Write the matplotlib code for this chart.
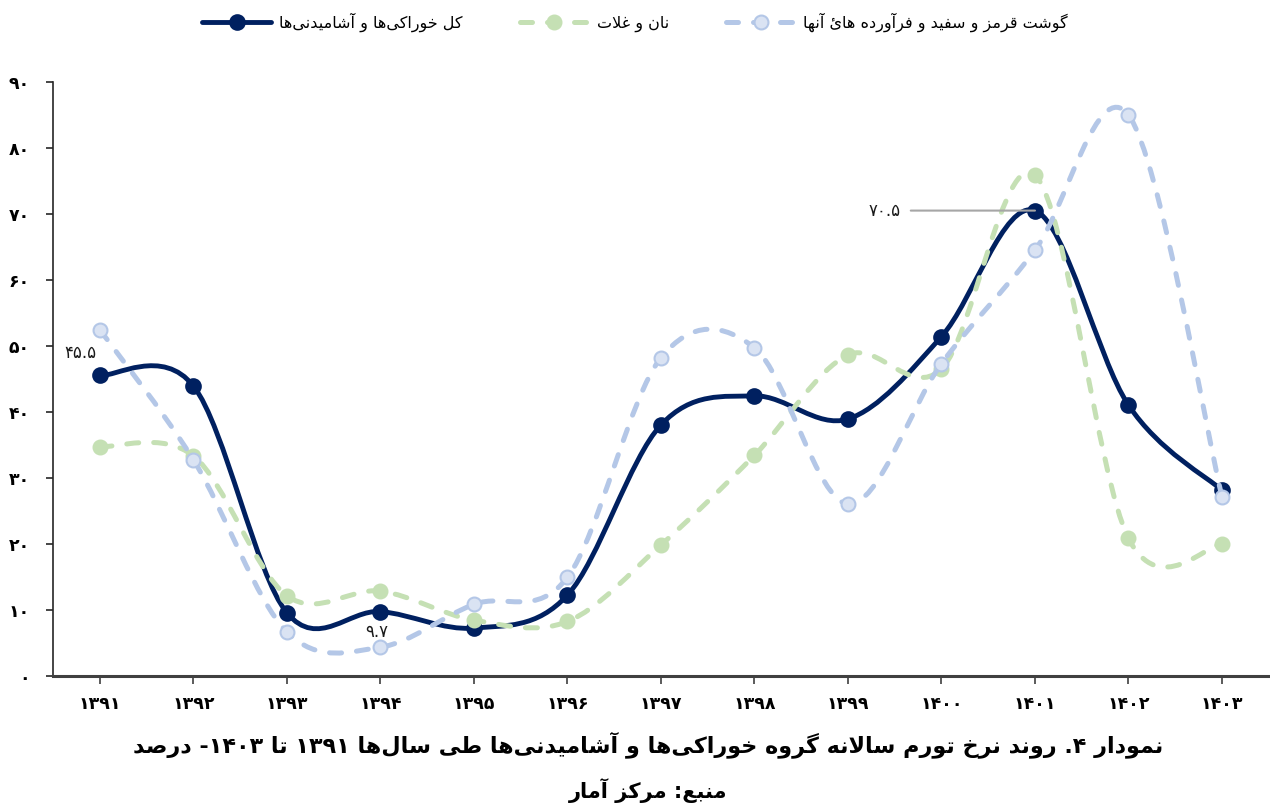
import re
import numpy as np
import matplotlib
matplotlib.use("Agg")
import matplotlib.pyplot as plt
from matplotlib.path import Path
from matplotlib.patches import PathPatch
from matplotlib.lines import Line2D

plt.rcParams['font.family'] = ['DejaVu Sans']

# ---------------- data ----------------
years = ['1391', '1392', '1393', '1394', '1395', '1396', '1397',
         '1398', '1399', '1400', '1401', '1402', '1403']
total_food = [45.5, 43.9, 9.5, 9.7, 7.2, 12.2, 38.0, 42.4, 38.9, 51.4, 70.5, 41.0, 28.1]
bread_cereal = [34.7, 33.3, 12.1, 12.8, 8.4, 8.2, 19.8, 33.4, 48.6, 46.5, 75.9, 20.8, 19.9]
meat = [52.4, 32.7, 6.6, 4.3, 10.8, 14.9, 48.2, 49.7, 26.0, 47.3, 64.5, 85.0, 27.1]
yticks = [0, 10, 20, 30, 40, 50, 60, 70, 80, 90]
series_names = ['کل خوراکی‌ها و آشامیدنی‌ها', 'نان و غلات', 'گوشت قرمز و سفید و فرآورده هائ آنها']
title_text = 'نمودار ۴. روند نرخ تورم سالانه گروه خوراکی‌ها و آشامیدنی‌ها طی سال‌ها ۱۳۹۱ تا ۱۴۰۳- درصد'
source_text = 'منبع: مرکز آمار'
labelled = {0: '45.5', 3: '9.7', 10: '70.5'}

# ---------------- Arabic/Persian shaping (no shaping engine in matplotlib) ----------------
FORMS = {
    '\u0621': ('\ufe80', None, None, None),
    '\u0622': ('\ufe81', '\ufe82', None, None),
    '\u0623': ('\ufe83', '\ufe84', None, None),
    '\u0624': ('\ufe85', '\ufe86', None, None),
    '\u0625': ('\ufe87', '\ufe88', None, None),
    '\u0626': ('\ufe89', '\ufe8a', '\ufe8b', '\ufe8c'),
    '\u0627': ('\ufe8d', '\ufe8e', None, None),
    '\u0628': ('\ufe8f', '\ufe90', '\ufe91', '\ufe92'),
    '\u0629': ('\ufe93', '\ufe94', None, None),
    '\u062a': ('\ufe95', '\ufe96', '\ufe97', '\ufe98'),
    '\u062b': ('\ufe99', '\ufe9a', '\ufe9b', '\ufe9c'),
    '\u062c': ('\ufe9d', '\ufe9e', '\ufe9f', '\ufea0'),
    '\u062d': ('\ufea1', '\ufea2', '\ufea3', '\ufea4'),
    '\u062e': ('\ufea5', '\ufea6', '\ufea7', '\ufea8'),
    '\u062f': ('\ufea9', '\ufeaa', None, None),
    '\u0630': ('\ufeab', '\ufeac', None, None),
    '\u0631': ('\ufead', '\ufeae', None, None),
    '\u0632': ('\ufeaf', '\ufeb0', None, None),
    '\u0633': ('\ufeb1', '\ufeb2', '\ufeb3', '\ufeb4'),
    '\u0634': ('\ufeb5', '\ufeb6', '\ufeb7', '\ufeb8'),
    '\u0635': ('\ufeb9', '\ufeba', '\ufebb', '\ufebc'),
    '\u0636': ('\ufebd', '\ufebe', '\ufebf', '\ufec0'),
    '\u0637': ('\ufec1', '\ufec2', '\ufec3', '\ufec4'),
    '\u0638': ('\ufec5', '\ufec6', '\ufec7', '\ufec8'),
    '\u0639': ('\ufec9', '\ufeca', '\ufecb', '\ufecc'),
    '\u063a': ('\ufecd', '\ufece', '\ufecf', '\ufed0'),
    '\u0641': ('\ufed1', '\ufed2', '\ufed3', '\ufed4'),
    '\u0642': ('\ufed5', '\ufed6', '\ufed7', '\ufed8'),
    '\u0643': ('\ufed9', '\ufeda', '\ufedb', '\ufedc'),
    '\u0644': ('\ufedd', '\ufede', '\ufedf', '\ufee0'),
    '\u0645': ('\ufee1', '\ufee2', '\ufee3', '\ufee4'),
    '\u0646': ('\ufee5', '\ufee6', '\ufee7', '\ufee8'),
    '\u0647': ('\ufee9', '\ufeea', '\ufeeb', '\ufeec'),
    '\u0648': ('\ufeed', '\ufeee', None, None),
    '\u0649': ('\ufeef', '\ufef0', None, None),
    '\u064a': ('\ufef1', '\ufef2', '\ufef3', '\ufef4'),
    '\u067e': ('\ufb56', '\ufb57', '\ufb58', '\ufb59'),
    '\u0686': ('\ufb7a', '\ufb7b', '\ufb7c', '\ufb7d'),
    '\u0698': ('\ufb8a', '\ufb8b', None, None),
    '\u06a9': ('\ufb8e', '\ufb8f', '\ufb90', '\ufb91'),
    '\u06af': ('\ufb92', '\ufb93', '\ufb94', '\ufb95'),
    '\u06cc': ('\ufbfc', '\ufbfd', '\ufbfe', '\ufbff'),
}
LAM_ALEF = {'\u0622': ('\ufef5', '\ufef6'), '\u0623': ('\ufef7', '\ufef8'),
            '\u0625': ('\ufef9', '\ufefa'), '\u0627': ('\ufefb', '\ufefc')}


def _joins_left(c):
    return c in FORMS and FORMS[c][2] is not None


def shape(s):
    out = []
    i, n = 0, len(s)
    while i < n:
        c = s[i]
        prev = s[i - 1] if i > 0 else ''
        if c == '\u0644' and i + 1 < n and s[i + 1] in LAM_ALEF:
            iso, fin = LAM_ALEF[s[i + 1]]
            out.append(fin if _joins_left(prev) else iso)
            i += 2
            continue
        if c in FORMS:
            iso, fin, ini, med = FORMS[c]
            p = _joins_left(prev)
            nx = ini is not None and i + 1 < n and s[i + 1] in FORMS
            out.append(med if (p and nx) else fin if p else ini if nx else iso)
        elif c != '\u200c':
            out.append(c)
        i += 1
    return ''.join(out)


def rtl(s):
    rev = shape(s)[::-1]
    return re.sub(r'[0-9\u06f0-\u06f9]+(?:[.][0-9\u06f0-\u06f9]+)*',
                  lambda m: m.group(0)[::-1], rev)


FA = str.maketrans('0123456789', '۰۱۲۳۴۵۶۷۸۹')


def fa(s):
    return str(s).translate(FA)


def smooth_path(xs, ys):
    pts = np.column_stack([xs, ys]).astype(float)
    n = len(pts)
    verts = [pts[0]]
    codes = [Path.MOVETO]
    for i in range(n - 1):
        p0 = pts[i - 1] if i > 0 else pts[i]
        p1 = pts[i]
        p2 = pts[i + 1]
        p3 = pts[i + 2] if i + 2 < n else pts[i + 1]
        c1 = p1 + (p2 - p0) / 6.0
        c2 = p2 - (p3 - p1) / 6.0
        verts += [c1, c2, p2]
        codes += [Path.CURVE4] * 3
    return Path(verts, codes)


# ---------------- figure ----------------
fig = plt.figure(figsize=(12.7, 8.07), dpi=100)
ax = fig.add_axes([0.0419, 0.1629, 0.9571, 0.7355])
x = np.arange(len(years))

navy = '#002060'
green = '#C5E0B4'
blue = '#B4C7E7'
blue_fill = '#DAE3F3'

dash = (0, (2.4, 3.0))
specs = [
    (total_food, navy, '-', 3.5, navy, navy, 2, 10.5),
    (bread_cereal, green, dash, 3.6, green, green, 3, 10.0),
    (meat, blue, dash, 3.6, blue_fill, blue, 4, 10.0),
]
handles = []
for (vals, col, ls, lw, mfc, mec, z, ms) in specs:
    patch = PathPatch(smooth_path(x, vals), fill=False, edgecolor=col, lw=lw,
                      linestyle=ls, capstyle='round', joinstyle='round', zorder=z)
    ax.add_patch(patch)
    ax.plot(x, vals, ls='none', marker='o', ms=ms, mfc=mfc, mec=mec, mew=1.5, zorder=z + 0.5)
    h = Line2D([], [], color=col, lw=lw, linestyle=ls, marker='o', ms=ms,
               mfc=mfc, mec=mec, mew=1.5, solid_capstyle='round', dash_capstyle='round')
    handles.append(h)

# data labels
ax.annotate(fa(labelled[0]), (0, total_food[0]), xytext=(-14, 16), textcoords='offset points',
            ha='center', va='center', fontsize=12, color='#1a1a1a')
ax.annotate(fa(labelled[3]), (3, total_food[3]), xytext=(-3, -15), textcoords='offset points',
            ha='center', va='center', fontsize=12, color='#1a1a1a')
ax.annotate(fa(labelled[10]), (10, total_food[10]), xytext=(-108, 0), textcoords='offset points',
            ha='center', va='center', fontsize=12, color='#1a1a1a',
            arrowprops=dict(arrowstyle='-', color='#A6A6A6', lw=1.5, shrinkA=5, shrinkB=0))

ax.set_xlim(-0.5, len(years) - 0.5)
ax.set_ylim(0, 90)
ax.set_xticks(x)
ax.set_xticklabels([fa(y) for y in years], fontweight='bold', fontsize=12.5)
ax.set_yticks(yticks)
ax.set_yticklabels([fa(v) for v in yticks], fontweight='bold', fontsize=12.5)
ax.tick_params(axis='x', direction='out', length=6, width=1.2, color='#404040', pad=8)
ax.tick_params(axis='y', direction='out', length=5, width=1.2, color='#262626', pad=12)

for s in ['top', 'right']:
    ax.spines[s].set_visible(False)
ax.spines['left'].set_color('#262626')
ax.spines['left'].set_linewidth(1.2)
ax.spines['bottom'].set_color('#404040')
ax.spines['bottom'].set_linewidth(2.2)

fig.legend(handles, [rtl(s) for s in series_names], loc='center', bbox_to_anchor=(0.5, 0.972),
           ncol=3, frameon=False, fontsize=11.5, handlelength=4.3, columnspacing=3.6,
           handletextpad=0.5)

fig.text(0.51, 0.077, rtl(title_text), ha='center', va='center', fontsize=16, fontweight='bold')
fig.text(0.51, 0.021, rtl(source_text), ha='center', va='center', fontsize=15, fontweight='bold')

fig.savefig('out.png', dpi=100)
